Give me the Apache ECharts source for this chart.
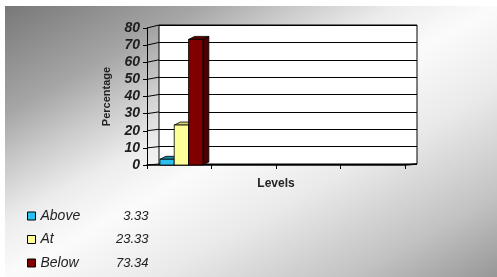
<!DOCTYPE html>
<html>
<head>
<meta charset="utf-8">
<script src="https://cdn.jsdelivr.net/npm/echarts@6/dist/echarts.min.js"></script>
<style>
  html, body { margin: 0; padding: 0; background: #fff; }
  #main { width: 497px; height: 277px; }
</style>
</head>
<body>
<div id="main"></div>
<script>
// chart data
var levels = ['1', '2', '3', '4'];                // category slots on the Levels axis (no labels shown)
var seriesNames = ['Above', 'At', 'Below'];
var seriesValues = [3.33, 23.33, 73.34];
var yTicks = [0, 10, 20, 30, 40, 50, 60, 70, 80];

// colours of the 3d bars: front face, top face, side face
var frontColors = ['#2cc0f0', '#ffff99', '#800000'];
var topColors = ['#1a86aa', '#d4d47a', '#5c0000'];
var sideColors = ['#15708e', '#b8b85e', '#4a0000'];

var FONT = '"Liberation Sans", Arial, sans-serif';

// front plane (axes) and back wall sit apart by a small depth offset
var front = { left: 147, top: 28, width: 258, height: 137 };
var back = { left: 159, top: 25, width: 258, height: 139 };

var chartDom = document.getElementById('main');
var myChart = echarts.init(chartDom);

function barRenderer(idx) {
  return function (params, api) {
    var pt = api.coord([api.value(0), api.value(1)]);
    var base = api.coord([api.value(0), 0]);
    var cw = api.size([1, 0])[0];
    var bw = cw * 0.222;
    var x0 = pt[0] - cw * 0.3 + idx * bw;
    var x1 = x0 + bw;
    var dx = 6, dy = -3;
    var y0 = pt[1], yb = base[1];
    var edge = { stroke: '#000', lineWidth: 0.8 };
    return {
      type: 'group',
      children: [
        {
          type: 'polygon', // side
          shape: { points: [[x1, y0], [x1 + dx, y0 + dy], [x1 + dx, yb + dy], [x1, yb]] },
          style: Object.assign({ fill: sideColors[idx] }, edge)
        },
        {
          type: 'polygon', // top
          shape: { points: [[x0, y0], [x0 + dx, y0 + dy], [x1 + dx, y0 + dy], [x1, y0]] },
          style: Object.assign({ fill: topColors[idx] }, edge)
        },
        {
          type: 'rect', // front
          shape: { x: x0, y: y0, width: bw, height: yb - y0 },
          style: Object.assign({ fill: frontColors[idx] }, edge)
        }
      ]
    };
  };
}

var series = seriesNames.map(function (name, i) {
  return {
    name: name,
    type: 'custom',
    xAxisIndex: 1,
    yAxisIndex: 1,
    clip: false,
    z: 10,
    itemStyle: { color: frontColors[i] },
    renderItem: barRenderer(i),
    data: [[0, seriesValues[i]]]
  };
});

var option = {
  animation: false,
  grid: [
    { // back wall
      left: back.left, top: back.top, width: back.width, height: back.height,
      show: true, backgroundColor: '#fff', borderColor: '#000', borderWidth: 1
    },
    { // front plane with the visible axes
      left: front.left, top: front.top, width: front.width, height: front.height
    }
  ],
  xAxis: [
    { gridIndex: 0, type: 'category', data: levels, show: false },
    {
      gridIndex: 1, type: 'category', data: levels, boundaryGap: true,
      axisLine: { show: true, lineStyle: { color: '#000', width: 1.5 } },
      axisTick: { show: true, length: 4, lineStyle: { color: '#000' } },
      axisLabel: { show: false },
      name: 'Levels', nameLocation: 'middle', nameGap: 13,
      nameTextStyle: { fontFamily: FONT, fontWeight: 'bold', fontSize: 12, color: '#222' }
    }
  ],
  yAxis: [
    {
      gridIndex: 0, type: 'value', min: 0, max: 80, interval: 10,
      axisLine: { show: false }, axisTick: { show: false }, axisLabel: { show: false },
      splitLine: { show: true, lineStyle: { color: '#000', width: 1 } }
    },
    {
      gridIndex: 1, type: 'value', min: 0, max: 80, interval: 10,
      axisLine: { show: true, lineStyle: { color: '#000', width: 1 } },
      axisTick: { show: true, length: 4, lineStyle: { color: '#000' } },
      splitLine: { show: false },
      axisLabel: {
        margin: 7, fontFamily: FONT, fontSize: 14, fontWeight: 'bold', fontStyle: 'italic', color: '#1e1e1e'
      },
      name: 'Percentage', nameLocation: 'middle', nameGap: 35, nameRotate: 90,
      nameTextStyle: { fontFamily: FONT, fontWeight: 'bold', fontSize: 11, color: '#222' }
    }
  ],
  legend: {
    orient: 'vertical', left: 22, top: 204,
    itemWidth: 8, itemHeight: 8, itemGap: 9.5,
    icon: 'rect', selectedMode: false,
    itemStyle: { borderColor: '#000', borderWidth: 1 },
    data: seriesNames,
    formatter: function (name) {
      var i = seriesNames.indexOf(name);
      return '{n|' + name + '}{v|' + seriesValues[i].toFixed(2) + '}';
    },
    textStyle: {
      rich: {
        n: { width: 80, fontSize: 14, fontStyle: 'italic', fontFamily: FONT, color: '#222', lineHeight: 16 },
        v: { width: 28, align: 'right', fontSize: 13, fontStyle: 'italic', fontFamily: FONT, color: '#222', lineHeight: 16 }
      }
    }
  },
  series: series
};

myChart.setOption(option);

// background gradient and the 3d side wall / floor lines, placed with the axes' own scales
var W = 492, H = 271;
var k = 2 * W * H / (W * W + H * H);
var deco = [{
  type: 'rect', z: -100, silent: true,
  shape: { x: 5, y: 6, width: W, height: H },
  style: {
    fill: new echarts.graphic.LinearGradient(5, 6, 5 + k * H, 6 + k * W, [
      { offset: 0, color: '#787878' },
      { offset: 0.2, color: '#a6a6a6' },
      { offset: 0.3, color: '#cbcbcb' },
      { offset: 0.4, color: '#ececec' },
      { offset: 0.5, color: '#fbfbfb' },
      { offset: 0.65, color: '#eaeaea' },
      { offset: 0.85, color: '#c2c2c2' },
      { offset: 1, color: '#979797' }
    ], true)
  }
}];

yTicks.forEach(function (v) {
  var yf = myChart.convertToPixel({ yAxisIndex: 1 }, v);
  var yb = myChart.convertToPixel({ yAxisIndex: 0 }, v);
  deco.push({
    type: 'line', z: 5, silent: true,
    shape: { x1: front.left, y1: yf, x2: back.left, y2: yb },
    style: { stroke: '#000', lineWidth: 1 }
  });
});
var y0f = myChart.convertToPixel({ yAxisIndex: 1 }, 0);
var y0b = myChart.convertToPixel({ yAxisIndex: 0 }, 0);
deco.push({
  type: 'line', z: 5, silent: true,
  shape: { x1: front.left + front.width, y1: y0f, x2: back.left + back.width, y2: y0b },
  style: { stroke: '#000', lineWidth: 1.5 }
});

myChart.setOption({ graphic: deco });
</script>
</body>
</html>
